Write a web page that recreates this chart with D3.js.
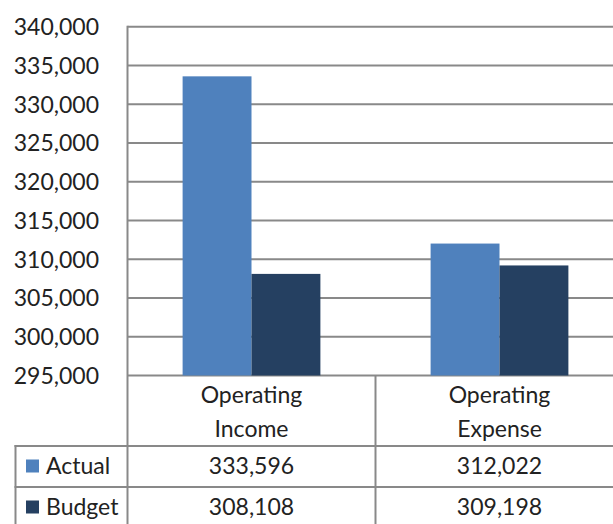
<!DOCTYPE html>
<html>
<head>
<meta charset="utf-8">
<script src="https://cdn.jsdelivr.net/npm/d3@7"></script>
<style>
  body { margin: 0; background: #fff; }
  svg { display: block; }
</style>
</head>
<body>
<div id="chart"></div>
<script>
// data
var categories = [["Operating", "Income"], ["Operating", "Expense"]];
var seriesNames = ["Actual", "Budget"];
var actual = [333596, 312022];
var budget = [308108, 309198];
var yTicks = [295000, 300000, 305000, 310000, 315000, 320000, 325000, 330000, 335000, 340000];

var W = 613, H = 524;
var colors = { Actual: "#4f81bd", Budget: "#254061" };
var lineColor = "#898989";
var font = "Lato, 'DejaVu Sans', sans-serif";

var plotLeft = 127.5, plotTop = 26.7, plotBottom = 375.5;
var tableLeft = 15.5, headBottom = 446, rowH = 41;

var svg = d3.select("#chart").append("svg")
  .attr("width", W)
  .attr("height", H);

var x0 = d3.scaleBand()
  .domain(d3.range(categories.length))
  .range([plotLeft, plotLeft + 248 * categories.length])
  .paddingInner(0).paddingOuter(0);

var x1 = d3.scaleBand()
  .domain(seriesNames)
  .range([0, x0.bandwidth()])
  .paddingInner(0).paddingOuter(0.8);

var y = d3.scaleLinear()
  .domain([yTicks[0], yTicks[yTicks.length - 1]])
  .range([plotBottom, plotTop]);

// GRID

svg.append("g")
  .selectAll("line.grid")
  .data(yTicks)
  .enter().append("line")
    .attr("class", "grid")
    .attr("x1", plotLeft)
    .attr("x2", W)
    .attr("y1", function(d) { return y(d); })
    .attr("y2", function(d) { return y(d); })
    .attr("stroke", lineColor)
    .attr("stroke-width", 2);

// y axis labels
var yAxis = d3.axisLeft(y)
  .tickValues(yTicks)
  .tickFormat(d3.format(","))
  .tickSize(0)
  .tickPadding(0);

var yG = svg.append("g")
  .attr("transform", "translate(99,0)")
  .call(yAxis);
yG.select(".domain").remove();
yG.selectAll("text")
  .attr("font-family", font)
  .attr("font-size", 23)
  .attr("fill", "#222")
  .attr("dy", "0.34em");

// BARS

var rows = seriesNames.map(function(name) {
  return { name: name, values: name == "Actual" ? actual : budget };
});

var groups = svg.append("g")
  .selectAll("g.cat")
  .data(categories)
  .enter().append("g")
    .attr("class", "cat")
    .attr("transform", function(d, i) { return "translate(" + x0(i) + ",0)"; });

groups.selectAll("rect")
  .data(function(d, i) {
    return rows.map(function(r) { return { name: r.name, value: r.values[i] }; });
  })
  .enter().append("rect")
    .attr("x", function(d) { return x1(d.name); })
    .attr("y", function(d) { return y(d.value); })
    .attr("width", x1.bandwidth())
    .attr("height", function(d) { return plotBottom - y(d.value); })
    .attr("fill", function(d) { return colors[d.name]; });

// TABLE LINES

svg.append("line")
  .attr("x1", plotLeft).attr("x2", plotLeft)
  .attr("y1", plotTop - 1).attr("y2", H)
  .attr("stroke", lineColor).attr("stroke-width", 2);

d3.range(1, categories.length).forEach(function(i) {
  svg.append("line")
    .attr("x1", x0(i)).attr("x2", x0(i))
    .attr("y1", plotBottom).attr("y2", H)
    .attr("stroke", lineColor).attr("stroke-width", 2);
});

svg.append("line")
  .attr("x1", tableLeft).attr("x2", tableLeft)
  .attr("y1", headBottom - 1).attr("y2", H)
  .attr("stroke", lineColor).attr("stroke-width", 2);

d3.range(rows.length + 1).forEach(function(r) {
  svg.append("line")
    .attr("x1", tableLeft - 1).attr("x2", W)
    .attr("y1", headBottom + r * rowH).attr("y2", headBottom + r * rowH)
    .attr("stroke", lineColor).attr("stroke-width", 2);
});

// category headers
groups.selectAll("text")
  .data(function(d) { return d; })
  .enter().append("text")
    .text(function(d) { return d; })
    .attr("x", x0.bandwidth() / 2)
    .attr("y", function(d, i) { return 403 + i * 34; })
    .attr("text-anchor", "middle")
    .attr("font-family", font)
    .attr("font-size", 23)
    .attr("fill", "#222");

// data rows
var tRows = svg.append("g")
  .selectAll("g.trow")
  .data(rows)
  .enter().append("g")
    .attr("class", "trow")
    .attr("transform", function(d, i) { return "translate(0," + (headBottom + i * rowH + rowH / 2) + ")"; });

tRows.append("rect")
  .attr("x", 26)
  .attr("y", -7)
  .attr("width", 13)
  .attr("height", 13)
  .attr("fill", function(d) { return colors[d.name]; });

tRows.append("text")
  .text(function(d) { return d.name; })
  .attr("x", 46)
  .attr("dy", "0.34em")
  .attr("font-family", font)
  .attr("font-size", 23)
  .attr("fill", "#222");

tRows.selectAll("text.val")
  .data(function(d) { return d.values; })
  .enter().append("text")
    .attr("class", "val")
    .text(function(d) { return d3.format(",")(d); })
    .attr("x", function(d, i) { return x0(i) + x0.bandwidth() / 2; })
    .attr("dy", "0.34em")
    .attr("text-anchor", "middle")
    .attr("font-family", font)
    .attr("font-size", 23)
    .attr("fill", "#222");
</script>
</body>
</html>
